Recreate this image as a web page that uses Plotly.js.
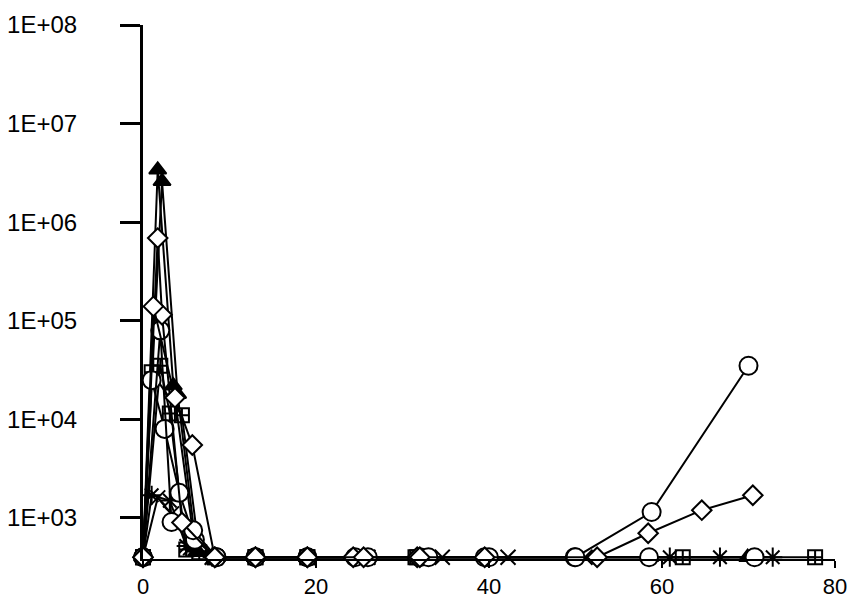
<!DOCTYPE html>
<html>
<head>
<meta charset="utf-8">
<script src="https://cdn.plot.ly/plotly-3.0.1.min.js"></script>
<style>html,body{margin:0;padding:0;background:#fff;}#chart{width:851px;height:602px;}</style>
</head>
<body>
<div id="chart"></div>
<script>
// Baseline (detection limit) value
const LOD = 400;

// Open circle series
const circleA_x = [0, 2, 3.3, 5.8, 8.5, 13, 19, 26, 33, 40, 50, 58.8, 70];
const circleA_y = [400, 80000, 910, 750, 400, 400, 400, 400, 400, 400, 400, 1150, 35000];
const circleB_x = [0, 1, 2.5, 4.2, 6, 8.5, 13, 19, 24.5, 32, 39.5, 49.9, 58.5, 70.7];
const circleB_y = [400, 25000, 8000, 1800, 600, 400, 400, 400, 400, 400, 400, 400, 400, 400];

// Open diamond series
const diamondA_x = [0, 1.2, 3.7, 5.7, 8.3, 13, 19, 25.5, 32, 39.5, 52.5, 58.4, 64.6, 70.5];
const diamondA_y = [400, 140000, 16600, 5500, 400, 400, 400, 400, 400, 400, 400, 700, 1200, 1700];
const diamondB_x = [0, 1.7, 2.2, 4.5, 8.3, 13, 19, 24.3, 31.7];
const diamondB_y = [400, 690000, 115000, 900, 400, 400, 400, 400, 400];

// Filled triangle series
const triA_x = [0, 1.7, 3.5, 6, 8.5, 13, 19, 58.6, 69.9];
const triA_y = [400, 3400000, 22000, 500, 400, 400, 400, 400, 400];
const triB_x = [0, 2.2, 4, 6.2, 8.3, 13, 19];
const triB_y = [400, 2600000, 18000, 450, 400, 400, 400];

// Square with cross series
const sqA_x = [0, 1, 4.5, 6.5, 8.3, 13, 19, 31.5, 62.4, 77.7];
const sqA_y = [400, 30000, 11000, 450, 400, 400, 400, 400, 400, 400];
const sqB_x = [0, 2, 3.1, 5, 8.3, 13, 19, 31.7];
const sqB_y = [400, 35000, 11500, 480, 400, 400, 400, 400];

// Asterisk series
const astA_x = [0, 1, 3.1, 5, 8, 13, 60.9, 66.7, 72.8];
const astA_y = [400, 1700, 1500, 520, 400, 400, 400, 400, 400];

// X series
const xA_x = [0, 1.7, 3.3, 5.5, 8, 26, 34.6, 42.2, 51.1];
const xA_y = [400, 1600, 1100, 500, 400, 400, 400, 400, 400];

const LINE = {color: '#000', width: 2};

function tr(x, y, symbol, size, fill) {
  return {
    x: x, y: y, type: 'scatter', mode: 'lines+markers',
    line: LINE, cliponaxis: false,
    marker: {symbol: symbol, size: size, color: fill, line: {color: '#000', width: 2}}
  };
}

const data = [
  tr(astA_x, astA_y, 'asterisk-open', 16, '#000'),
  tr(xA_x, xA_y, 'x-thin-open', 15, '#000'),
  tr(sqA_x, sqA_y, 'square-cross-open', 14, '#000'),
  tr(sqB_x, sqB_y, 'square-cross-open', 14, '#000'),
  tr(triA_x, triA_y, 'triangle-up', 15, '#000'),
  tr(triB_x, triB_y, 'triangle-up', 15, '#000'),
  tr(circleB_x, circleB_y, 'circle', 18, '#fff'),
  tr(circleA_x, circleA_y, 'circle', 18, '#fff'),
  tr(diamondB_x, diamondB_y, 'diamond', 15, '#fff'),
  tr(diamondA_x, diamondA_y, 'diamond', 15, '#fff')
];

const xTicks = [0, 20, 40, 60, 80];
const yTicks = [1e3, 1e4, 1e5, 1e6, 1e7, 1e8];
const yTickText = ['1E+03', '1E+04', '1E+05', '1E+06', '1E+07', '1E+08'];

const layout = {
  width: 851, height: 602,
  margin: {l: 143, r: 16, t: 25, b: 43},
  paper_bgcolor: '#fff', plot_bgcolor: '#fff',
  showlegend: false,
  font: {family: '"Liberation Sans", Arial, sans-serif', size: 24, color: '#000'},
  xaxis: {
    range: [0, 80], tickvals: xTicks, ticktext: xTicks.map(String),
    showgrid: false, zeroline: false, showline: true, linecolor: '#000', linewidth: 2,
    ticks: 'outside', ticklen: 7, tickwidth: 2, tickcolor: '#000',
    tickfont: {size: 22}
  },
  yaxis: {
    type: 'log', range: [2.584, 8], tickvals: yTicks, ticktext: yTickText,
    showgrid: false, zeroline: false, showline: true, linecolor: '#000', linewidth: 3,
    ticks: 'outside', ticklen: 20, tickwidth: 3, tickcolor: '#000',
    ticklabelstandoff: 38,
    tickfont: {size: 24}
  }
};

Plotly.newPlot('chart', data, layout, {displayModeBar: false, staticPlot: true});
</script>
</body>
</html>
